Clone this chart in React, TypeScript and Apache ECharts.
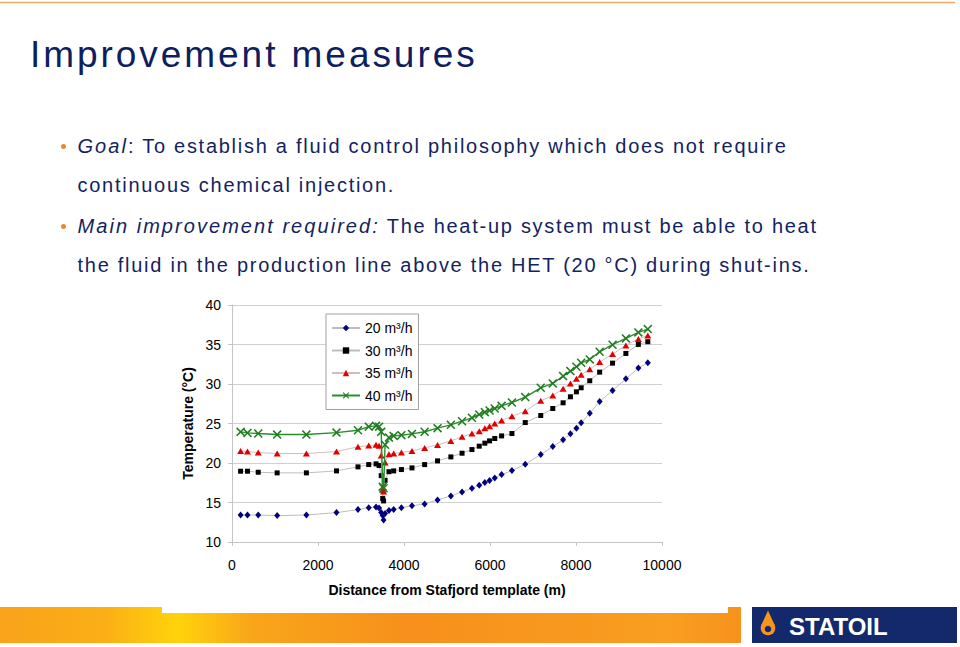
import React, { useEffect, useRef } from "react";
import * as echarts from "echarts";

// Distance from Stafjord template (m), shared by all series
const distances = [
  200, 360, 610, 1050, 1730, 2430, 2930, 3180, 3350, 3420, 3470, 3505, 3525, 3560,
  3650, 3760, 3940, 4185, 4480, 4780, 5090, 5350, 5580, 5750, 5880, 5990, 6110,
  6270, 6510, 6820, 7180, 7460, 7700, 7870, 8010, 8120, 8320, 8550, 8850, 9160,
  9450, 9670,
];

const flow20 = [
  13.42, 13.42, 13.42, 13.34, 13.42, 13.72, 14.1, 14.35, 14.42, 14.3, 13.75, 13.35,
  12.8, 13.6, 14.0, 14.1, 14.35, 14.58, 14.82, 15.32, 15.83, 16.34, 16.8, 17.18,
  17.52, 17.77, 18.11, 18.53, 19.04, 19.84, 21.07, 22.08, 22.93, 23.69, 24.41,
  25.08, 26.31, 27.79, 29.18, 30.66, 32.01, 32.69,
];

const flow30 = [
  18.96, 18.96, 18.83, 18.75, 18.75, 19.0, 19.51, 19.8, 19.89, 19.68, 18.4, 15.5,
  15.2, 17.8, 18.9, 19.0, 19.17, 19.38, 19.8, 20.27, 20.77, 21.24, 21.7, 22.13,
  22.51, 22.8, 23.1, 23.43, 23.73, 25.12, 26.01, 26.9, 27.62, 28.38, 29.01, 29.52,
  30.41, 31.5, 32.64, 33.87, 35.01, 35.35,
];

const flow35 = [
  21.53, 21.45, 21.32, 21.2, 21.2, 21.45, 22.05, 22.2, 22.3, 22.17, 20.95, 16.6,
  16.4, 20.06, 21.11, 21.2, 21.33, 21.53, 21.91, 22.29, 22.8, 23.31, 23.73, 24.03,
  24.41, 24.66, 25.0, 25.38, 25.93, 26.56, 27.87, 28.55, 29.39, 30.07, 30.66,
  31.17, 31.88, 32.77, 33.79, 34.88, 35.69, 36.15,
];

const flow40 = [
  23.94, 23.81, 23.73, 23.6, 23.6, 23.85, 24.15, 24.6, 24.7, 24.6, 23.94, 17.0,
  16.8, 22.3, 23.22, 23.43, 23.52, 23.68, 23.96, 24.41, 24.83, 25.29, 25.72, 26.14,
  26.43, 26.65, 26.9, 27.24, 27.66, 28.34, 29.52, 30.07, 31.0, 31.63, 32.18, 32.69,
  33.11, 34.08, 34.97, 35.77, 36.53, 36.95,
];

const seriesNames = ["20 m³/h", "30 m³/h", "35 m³/h", "40 m³/h"];
const xAxisTitle = "Distance from Stafjord template (m)";
const yAxisTitle = "Temperature (°C)";

const FONT = 'Arial, "Liberation Sans", Helvetica, sans-serif';
const NAVY = "#13235f";

const X_SYMBOL =
  "path://M0,1.2 L1.2,0 L5,3.8 L8.8,0 L10,1.2 L6.2,5 L10,8.8 L8.8,10 L5,6.2 L1.2,10 L0,8.8 L3.8,5 Z";

function pairs(vals: number[]) {
  return distances.map((d, i) => [d, vals[i]]);
}

export default function App() {
  const ref = useRef<HTMLDivElement>(null);

  useEffect(() => {
    if (!ref.current) return;
    const chart = echarts.init(ref.current, undefined, { renderer: "svg" });
    const grayLine = { color: "#bdbdbd", width: 1 };
    chart.setOption({
      animation: false,
      backgroundColor: "#ffffff",
      textStyle: { fontFamily: FONT },
      grid: { left: 232, right: 298, top: 305, bottom: 105, containLabel: false },
      legend: {
        orient: "vertical",
        left: 326,
        top: 314,
        padding: [6, 6, 6, 5],
        itemWidth: 28,
        itemHeight: 8,
        itemGap: 6.5,
        borderColor: "#a0a0a0",
        borderWidth: 1,
        backgroundColor: "#ffffff",
        textStyle: { fontFamily: FONT, fontSize: 14, color: "#000", lineHeight: 16 },
        data: seriesNames,
      },
      xAxis: {
        type: "value",
        min: 0,
        max: 10000,
        interval: 2000,
        name: xAxisTitle,
        nameLocation: "middle",
        nameGap: 41,
        nameTextStyle: { fontFamily: FONT, fontSize: 14, fontWeight: "bold", color: "#000" },
        axisLine: { show: true, lineStyle: { color: "#c4c4c4", width: 1 } },
        axisTick: { show: true, length: 4, lineStyle: { color: "#c4c4c4" } },
        axisLabel: {
          fontFamily: FONT,
          fontSize: 14,
          color: "#000",
          margin: 16,
          formatter: (v: number) => String(v),
        },
        splitLine: { show: false },
      },
      yAxis: {
        type: "value",
        min: 10,
        max: 40,
        interval: 5,
        name: yAxisTitle,
        nameLocation: "middle",
        nameRotate: 90,
        nameGap: 37,
        nameTextStyle: { fontFamily: FONT, fontSize: 14, fontWeight: "bold", color: "#000" },
        axisLine: { show: true, lineStyle: { color: "#c4c4c4", width: 1 } },
        axisTick: { show: true, length: 4, lineStyle: { color: "#c4c4c4" } },
        axisLabel: { fontFamily: FONT, fontSize: 14, color: "#000", margin: 11 },
        splitLine: { show: true, lineStyle: { color: "#d0d0d0", width: 1 } },
      },
      series: [
        {
          name: seriesNames[0],
          type: "line",
          data: pairs(flow20),
          symbol: "diamond",
          symbolSize: [6, 7],
          showAllSymbol: true,
          itemStyle: { color: "#000080" },
          lineStyle: grayLine,
          z: 2,
        },
        {
          name: seriesNames[1],
          type: "line",
          data: pairs(flow30),
          symbol: "rect",
          symbolSize: 5,
          showAllSymbol: true,
          itemStyle: { color: "#000000" },
          lineStyle: grayLine,
          z: 3,
        },
        {
          name: seriesNames[2],
          type: "line",
          data: pairs(flow35),
          symbol: "triangle",
          symbolSize: [7, 6],
          showAllSymbol: true,
          itemStyle: { color: "#e00000" },
          lineStyle: { color: "#d4bcbc", width: 1 },
          z: 4,
        },
        {
          name: seriesNames[3],
          type: "line",
          data: pairs(flow40),
          symbol: X_SYMBOL,
          symbolSize: 9,
          showAllSymbol: true,
          itemStyle: { color: "#1e7d1e" },
          lineStyle: { color: "#2a8c2a", width: 1.4 },
          z: 5,
        },
      ],
      graphic: [
        {
          type: "line",
          shape: { x1: 0, y1: 2.5, x2: 955, y2: 2.5 },
          style: { stroke: "#f0aa62", lineWidth: 1.5 },
          silent: true,
        },
        {
          type: "polygon",
          shape: {
            points: [
              [0, 607],
              [162, 607],
              [162, 613],
              [728, 613],
              [728, 607],
              [741, 607],
              [741, 643],
              [0, 643],
            ],
          },
          style: {
            fill: {
              type: "linear",
              x: 0,
              y: 0,
              x2: 1,
              y2: 0,
              colorStops: [
                { offset: 0, color: "#f9a31b" },
                { offset: 0.14, color: "#fbae16" },
                { offset: 0.24, color: "#ffd30b" },
                { offset: 0.34, color: "#f9a51a" },
                { offset: 0.55, color: "#f7901c" },
                { offset: 0.9, color: "#f99e20" },
                { offset: 1, color: "#f7921d" },
              ],
            },
          },
          silent: true,
        },
        {
          type: "rect",
          shape: { x: 752, y: 607, width: 205, height: 36 },
          style: { fill: "#13296b" },
          silent: true,
        },
        {
          type: "polygon",
          shape: { points: [[768, 610.5], [761.3, 625], [774.7, 625]] },
          style: { fill: "#f7941d" },
          silent: true,
        },
        {
          type: "circle",
          shape: { cx: 768, cy: 628, r: 7.3 },
          style: { fill: "#f7941d" },
          silent: true,
        },
        {
          type: "circle",
          shape: { cx: 768, cy: 629, r: 3.3 },
          style: { fill: "#13296b" },
          silent: true,
        },
        {
          type: "text",
          x: 789,
          y: 626,
          style: {
            text: "STATOIL",
            fill: "#ffffff",
            fontFamily: FONT,
            fontSize: 24,
            fontWeight: 900,
            verticalAlign: "middle",
            align: "left",
          },
          silent: true,
        },
      ],
    });
    return () => chart.dispose();
  }, []);

  const textBase: React.CSSProperties = {
    position: "absolute",
    fontFamily: FONT,
    color: NAVY,
    whiteSpace: "nowrap",
    margin: 0,
  };
  const bulletLine = (top: number): React.CSSProperties => ({
    ...textBase,
    left: 77.5,
    top,
    fontSize: 20,
    lineHeight: "20px",
    letterSpacing: "1.73px",
  });
  const italic: React.CSSProperties = { fontStyle: "italic", letterSpacing: "2.05px" };
  const dot = (top: number): React.CSSProperties => ({
    position: "absolute",
    left: 61,
    top,
    width: 5,
    height: 5,
    borderRadius: "50%",
    background: "#e8892c",
  });

  return (
    <div
      style={{
        position: "fixed",
        left: 0,
        top: 0,
        width: 960,
        height: 647,
        background: "#fff",
        overflow: "hidden",
      }}
    >
      <div ref={ref} style={{ position: "absolute", left: 0, top: 0, width: 960, height: 647 }} />
      <div
        style={{
          ...textBase,
          left: 30,
          top: 35.7,
          fontSize: 37,
          lineHeight: "37px",
          letterSpacing: "2.95px",
          color: "#0d205e",
        }}
      >
        Improvement measures
      </div>
      <div style={dot(143.5)} />
      <div style={bulletLine(136.1)}>
        <span style={italic}>Goal</span>: To establish a fluid control philosophy which does not require
      </div>
      <div style={bulletLine(175.1)}>continuous chemical injection.</div>
      <div style={dot(223.5)} />
      <div style={bulletLine(216.1)}>
        <span style={italic}>Main improvement required:</span> The heat-up system must be able to heat
      </div>
      <div style={bulletLine(255.1)}>
        the fluid in the production line above the HET (20 °C) during shut-ins.
      </div>
    </div>
  );
}
